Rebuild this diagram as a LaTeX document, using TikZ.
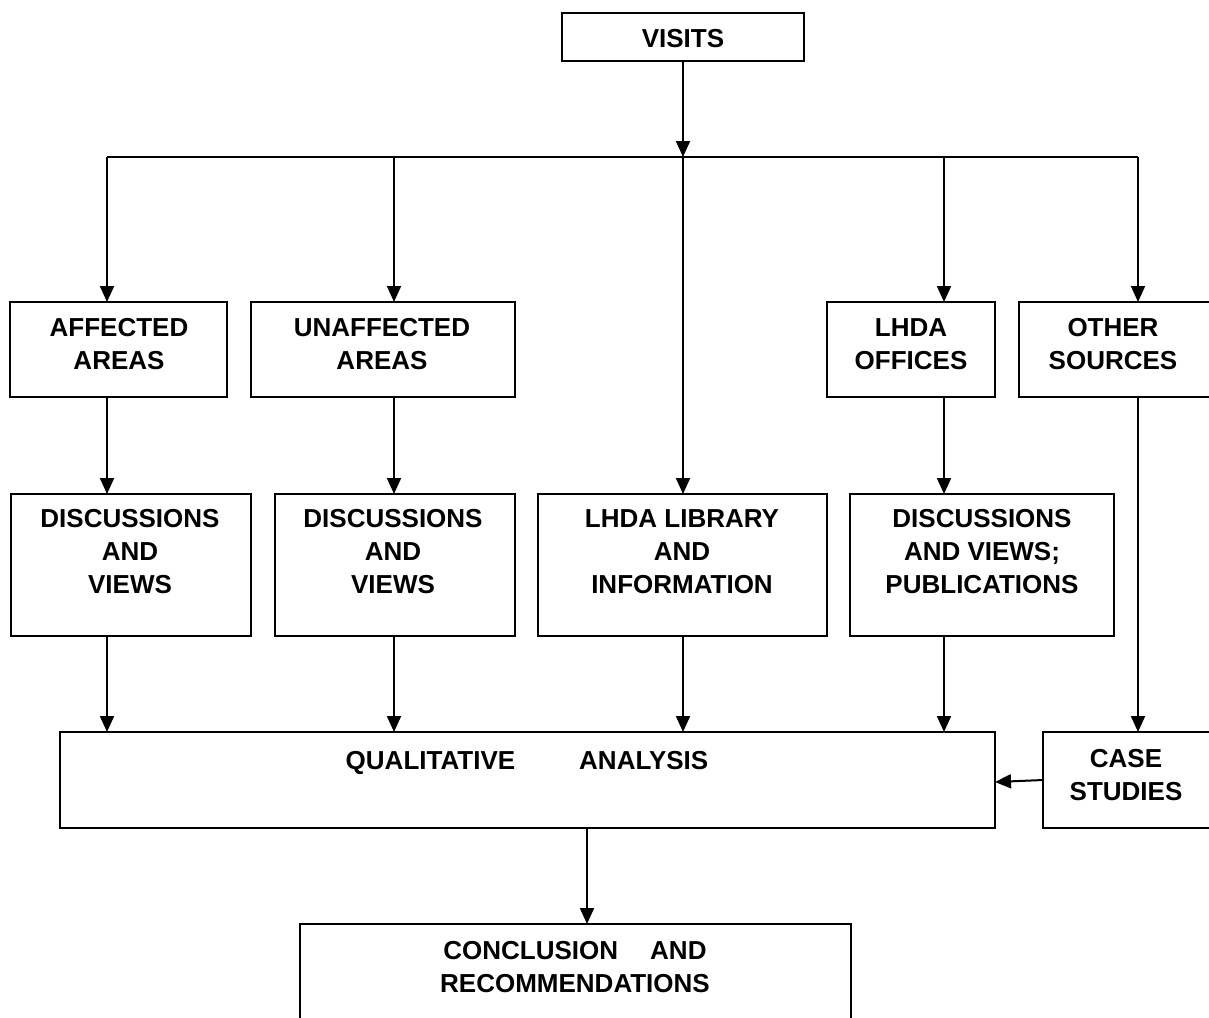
\documentclass[tikz,border=0pt]{standalone}
\usepackage{fontspec}
\setmainfont{Liberation Sans}
\usetikzlibrary{arrows.meta}
\begin{document}
\begin{tikzpicture}[x=1pt,y=-1pt,
  box/.style={draw=black,line width=2pt,inner sep=0pt,outer sep=0pt,fill=none},
  lbl/.style={font=\bfseries\fontsize{26}{33}\selectfont,align=center,inner sep=0pt,anchor=north},
  arr/.style={line width=2pt,-{Triangle[length=16pt,width=14pt]}},
  ln/.style={line width=2pt}]
\clip (0,0) rectangle (1209,1017);
\fill[white] (0,0) rectangle (1209,1017);
% boxes
\node[box,minimum width=242pt,minimum height=48pt] (visits) at (683,37) {};
\node[box,minimum width=217pt,minimum height=95pt] (affected) at (118.5,349.5) {};
\node[box,minimum width=264pt,minimum height=95pt] (unaffected) at (383,349.5) {};
\node[box,minimum width=168pt,minimum height=95pt] (offices) at (911,349.5) {};
\node[box,minimum width=201pt,minimum height=95pt] (other) at (1119.5,349.5) {};
\node[box,minimum width=240pt,minimum height=142pt] (disc1) at (131,565) {};
\node[box,minimum width=240pt,minimum height=142pt] (disc2) at (395,565) {};
\node[box,minimum width=289pt,minimum height=142pt] (library) at (682.5,565) {};
\node[box,minimum width=264pt,minimum height=142pt] (disc3) at (982,565) {};
\node[box,minimum width=935pt,minimum height=96pt] (qual) at (527.5,780) {};
\node[box,minimum width=177pt,minimum height=96pt] (case) at (1131.5,780) {};
\node[box,minimum width=551pt,minimum height=106pt] (conc) at (575.5,977) {};
% texts
\node[lbl] (tvisits) at (683,29) {VISITS};
\node[lbl] (taffected) at (119,318) {AFFECTED\\AREAS};
\node[lbl] (tunaffected) at (382,318) {UNAFFECTED\\AREAS};
\node[lbl] (toffices) at (911,318) {LHDA\\OFFICES};
\node[lbl] (tother) at (1113,318) {OTHER\\SOURCES};
\node[lbl] (tdisc1) at (130,509) {DISCUSSIONS\\AND\\VIEWS};
\node[lbl] (tdisc2) at (393,509) {DISCUSSIONS\\AND\\VIEWS};
\node[lbl] (tlibrary) at (682,509) {LHDA LIBRARY\\AND\\INFORMATION};
\node[lbl] (tdisc3) at (982,509) {DISCUSSIONS\\AND VIEWS;\\PUBLICATIONS};
\node[lbl] (tqual) at (527,751) {QUALITATIVE\hspace{64pt}ANALYSIS};
\node[lbl] (tcase) at (1126,749) {CASE\\STUDIES};
\node[lbl] (tconc) at (575,941) {CONCLUSION\hspace{32pt}AND\\RECOMMENDATIONS};
% branch coordinates
\coordinate (hA) at (107,157);
\coordinate (hB) at (394,157);
\coordinate (hM) at (683,157);
\coordinate (hD) at (944,157);
\coordinate (hR) at (1138,157);
\coordinate (cx) at (587,0);
% connectors
\draw[arr] (visits.south) -- (hM);
\draw[ln] (hA) -- (hR);
\draw[arr] (hA) -- (hA |- affected.north);
\draw[arr] (hB) -- (hB |- unaffected.north);
\draw[arr] (hM) -- (hM |- library.north);
\draw[arr] (hD) -- (hD |- offices.north);
\draw[arr] (hR) -- (hR |- other.north);
\draw[arr] (hA |- affected.south) -- (hA |- disc1.north);
\draw[arr] (hB |- unaffected.south) -- (hB |- disc2.north);
\draw[arr] (hD |- offices.south) -- (hD |- disc3.north);
\draw[arr] (hA |- disc1.south) -- (hA |- qual.north);
\draw[arr] (hB |- disc2.south) -- (hB |- qual.north);
\draw[arr] (hM |- library.south) -- (hM |- qual.north);
\draw[arr] (hD |- disc3.south) -- (hD |- qual.north);
\draw[arr] (hR |- other.south) -- (hR |- case.north);
\draw[arr] (case.west) -- ([yshift=-2pt]qual.east);
\draw[arr] (cx |- qual.south) -- (cx |- conc.north);
\end{tikzpicture}
\end{document}
